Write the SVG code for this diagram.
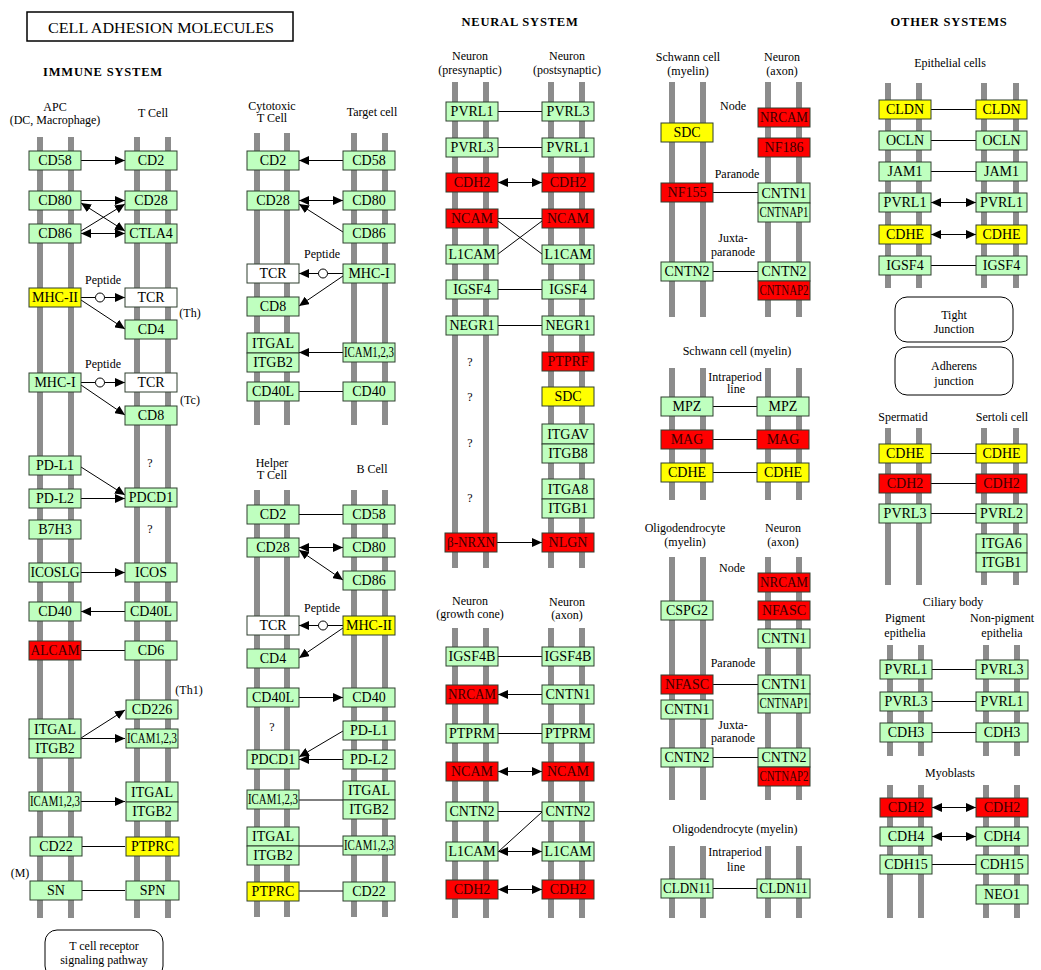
<svg xmlns="http://www.w3.org/2000/svg" width="1041" height="970" viewBox="0 0 1041 970">
<style>
.bar{stroke:#8c8c8c;stroke-width:6}
.n rect{stroke:#2f3f2f;stroke-width:1}
.g{fill:#bfffbf}.r{fill:#ff0000}.y{fill:#ffff00}.w{fill:#ffffff}
text{font-family:"Liberation Serif","Times New Roman",serif;fill:#000}
.nt{font-size:14px;text-anchor:middle;dominant-baseline:central}
text.rt{fill:#3a0000}
.lb{font-size:12px;text-anchor:middle}
.hd{font-size:12.5px;font-weight:bold;text-anchor:middle;letter-spacing:0.8px}
.c{stroke:#000;stroke-width:1;fill:none}
.a{marker-end:url(#ah)}
.b{marker-start:url(#ah);marker-end:url(#ah)}
.pc{fill:#fff;stroke:#000;stroke-width:1}
.box{fill:#fff;stroke:#000;stroke-width:1}
</style>
<defs>
<marker id="ah" markerWidth="11" markerHeight="9" refX="10" refY="4.5" orient="auto-start-reverse" markerUnits="userSpaceOnUse"><path d="M0,0 L10,4.5 L0,9 z" fill="#000"/></marker>
</defs>
<rect width="1041" height="970" fill="#fff"/>

<g id="titles">
<rect x="27" y="12" width="266" height="29" fill="#fff" stroke="#000" stroke-width="1.5"/>
<text x="161" y="32.5" font-size="15" text-anchor="middle" textLength="226" lengthAdjust="spacingAndGlyphs">CELL ADHESION MOLECULES</text>
<text class="hd" x="103" y="76">IMMUNE SYSTEM</text>
<text class="hd" x="520" y="26">NEURAL SYSTEM</text>
<text class="hd" x="949" y="26">OTHER SYSTEMS</text>
</g>

<g id="membranes">
<line class="bar" x1="40" y1="137" x2="40" y2="918"/><line class="bar" x1="71" y1="137" x2="71" y2="918"/>
<line class="bar" x1="137" y1="137" x2="137" y2="918"/><line class="bar" x1="168" y1="137" x2="168" y2="918"/>
<line class="bar" x1="257" y1="133" x2="257" y2="425"/><line class="bar" x1="287" y1="133" x2="287" y2="425"/>
<line class="bar" x1="354" y1="133" x2="354" y2="425"/><line class="bar" x1="385" y1="133" x2="385" y2="425"/>
<line class="bar" x1="257" y1="490" x2="257" y2="917"/><line class="bar" x1="287" y1="490" x2="287" y2="917"/>
<line class="bar" x1="354" y1="490" x2="354" y2="917"/><line class="bar" x1="385" y1="490" x2="385" y2="917"/>
<line class="bar" x1="455" y1="82" x2="455" y2="568"/><line class="bar" x1="486" y1="82" x2="486" y2="568"/>
<line class="bar" x1="551" y1="82" x2="551" y2="568"/><line class="bar" x1="582" y1="82" x2="582" y2="568"/>
<line class="bar" x1="455" y1="628" x2="455" y2="918"/><line class="bar" x1="486" y1="628" x2="486" y2="918"/>
<line class="bar" x1="551" y1="628" x2="551" y2="918"/><line class="bar" x1="582" y1="628" x2="582" y2="918"/>
<line class="bar" x1="672" y1="82" x2="672" y2="317"/><line class="bar" x1="703" y1="82" x2="703" y2="317"/>
<line class="bar" x1="768" y1="82" x2="768" y2="317"/><line class="bar" x1="799" y1="82" x2="799" y2="317"/>
<line class="bar" x1="672" y1="368" x2="672" y2="500"/><line class="bar" x1="703" y1="368" x2="703" y2="500"/>
<line class="bar" x1="768" y1="368" x2="768" y2="500"/><line class="bar" x1="799" y1="368" x2="799" y2="500"/>
<line class="bar" x1="672" y1="557" x2="672" y2="800"/><line class="bar" x1="703" y1="557" x2="703" y2="800"/>
<line class="bar" x1="768" y1="557" x2="768" y2="800"/><line class="bar" x1="799" y1="557" x2="799" y2="800"/>
<line class="bar" x1="672" y1="846" x2="672" y2="918"/><line class="bar" x1="703" y1="846" x2="703" y2="918"/>
<line class="bar" x1="768" y1="846" x2="768" y2="918"/><line class="bar" x1="799" y1="846" x2="799" y2="918"/>
<line class="bar" x1="888" y1="83" x2="888" y2="288"/><line class="bar" x1="919" y1="83" x2="919" y2="288"/>
<line class="bar" x1="984" y1="83" x2="984" y2="288"/><line class="bar" x1="1016" y1="83" x2="1016" y2="288"/>
<line class="bar" x1="888" y1="428" x2="888" y2="585"/><line class="bar" x1="919" y1="428" x2="919" y2="585"/>
<line class="bar" x1="984" y1="428" x2="984" y2="585"/><line class="bar" x1="1016" y1="428" x2="1016" y2="585"/>
<line class="bar" x1="890" y1="645" x2="890" y2="756"/><line class="bar" x1="921" y1="645" x2="921" y2="756"/>
<line class="bar" x1="986" y1="645" x2="986" y2="756"/><line class="bar" x1="1017" y1="645" x2="1017" y2="756"/>
<line class="bar" x1="890" y1="785" x2="890" y2="918"/><line class="bar" x1="921" y1="785" x2="921" y2="918"/>
<line class="bar" x1="986" y1="785" x2="986" y2="918"/><line class="bar" x1="1017" y1="785" x2="1017" y2="918"/>
</g>

<g id="labels">
<text class="lb" x="55" y="111">APC</text>
<text class="lb" x="55" y="124">(DC, Macrophage)</text>
<text class="lb" x="153" y="117">T Cell</text>
<text class="lb" x="103" y="284">Peptide</text>
<text class="lb" x="103" y="368">Peptide</text>
<text class="lb" x="190" y="317">(Th)</text>
<text class="lb" x="190" y="404">(Tc)</text>
<text class="lb" x="150" y="467">?</text>
<text class="lb" x="150" y="533">?</text>
<text class="lb" x="189" y="694">(Th1)</text>
<text class="lb" x="20" y="877">(M)</text>
<text class="lb" x="272" y="110">Cytotoxic</text>
<text class="lb" x="272" y="122">T Cell</text>
<text class="lb" x="372" y="116">Target cell</text>
<text class="lb" x="322" y="258">Peptide</text>
<text class="lb" x="272" y="467">Helper</text>
<text class="lb" x="272" y="479">T Cell</text>
<text class="lb" x="372" y="473">B Cell</text>
<text class="lb" x="322" y="612">Peptide</text>
<text class="lb" x="272" y="731">?</text>
<text class="lb" x="470" y="60">Neuron</text>
<text class="lb" x="470" y="74">(presynaptic)</text>
<text class="lb" x="567" y="60">Neuron</text>
<text class="lb" x="567" y="74">(postsynaptic)</text>
<text class="lb" x="470" y="366">?</text>
<text class="lb" x="470" y="401">?</text>
<text class="lb" x="470" y="447">?</text>
<text class="lb" x="470" y="502">?</text>
<text class="lb" x="470" y="605">Neuron</text>
<text class="lb" x="470" y="618">(growth cone)</text>
<text class="lb" x="567" y="606">Neuron</text>
<text class="lb" x="567" y="619">(axon)</text>
<text class="lb" x="688" y="61">Schwann cell</text>
<text class="lb" x="688" y="75">(myelin)</text>
<text class="lb" x="782" y="61">Neuron</text>
<text class="lb" x="782" y="75">(axon)</text>
<text class="lb" x="733" y="110">Node</text>
<text class="lb" x="737" y="178">Paranode</text>
<text class="lb" x="733" y="242">Juxta-</text>
<text class="lb" x="733" y="256">paranode</text>
<text class="lb" x="737" y="355">Schwann cell (myelin)</text>
<text class="lb" x="735" y="381">Intraperiod</text>
<text class="lb" x="736" y="393">line</text>
<text class="lb" x="685" y="532">Oligodendrocyte</text>
<text class="lb" x="685" y="546">(myelin)</text>
<text class="lb" x="783" y="532">Neuron</text>
<text class="lb" x="783" y="546">(axon)</text>
<text class="lb" x="732" y="572">Node</text>
<text class="lb" x="733" y="667">Paranode</text>
<text class="lb" x="733" y="729">Juxta-</text>
<text class="lb" x="733" y="742">paranode</text>
<text class="lb" x="735" y="833">Oligodendrocyte (myelin)</text>
<text class="lb" x="735" y="856">Intraperiod</text>
<text class="lb" x="736" y="871">line</text>
<text class="lb" x="950" y="67">Epithelial cells</text>
<text class="lb" x="903" y="421">Spermatid</text>
<text class="lb" x="1002" y="421">Sertoli cell</text>
<text class="lb" x="953" y="606">Ciliary body</text>
<text class="lb" x="905" y="622">Pigment</text>
<text class="lb" x="905" y="637">epithelia</text>
<text class="lb" x="1002" y="622">Non-pigment</text>
<text class="lb" x="1002" y="637">epithelia</text>
<text class="lb" x="950" y="777">Myoblasts</text>
</g>

<g id="pathway-boxes">
<g id="p-tcr"><rect class="box" x="45" y="930" width="118" height="48" rx="12"/><text class="lb" x="104" y="950">T cell receptor</text><text class="lb" x="104" y="964">signaling pathway</text></g>
<g id="p-tight"><rect class="box" x="895" y="297" width="118" height="45" rx="12"/><text class="lb" x="954" y="319">Tight</text><text class="lb" x="954" y="333">Junction</text></g>
<g id="p-adherens"><rect class="box" x="895" y="347" width="118" height="48" rx="12"/><text class="lb" x="954" y="370">Adherens</text><text class="lb" x="954" y="385">junction</text></g>
</g>

<g id="connectors">
<line class="c a" x1="81" y1="160.5" x2="125" y2="160.5"/>
<line class="c a" x1="81" y1="200.5" x2="125" y2="200.5"/>
<line class="c b" x1="81" y1="203" x2="125" y2="231"/>
<line class="c a" x1="81" y1="231" x2="125" y2="204"/>
<line class="c b" x1="81" y1="233.5" x2="125" y2="233.5"/>
<line class="c" x1="81" y1="297.5" x2="95.5" y2="297.5"/>
<circle class="pc" cx="100" cy="297.5" r="4.5"/>
<line class="c a" x1="104.5" y1="297.5" x2="125" y2="297.5"/>
<line class="c a" x1="81" y1="300" x2="125" y2="329"/>
<line class="c" x1="81" y1="382.5" x2="95.5" y2="382.5"/>
<circle class="pc" cx="100" cy="382.5" r="4.5"/>
<line class="c a" x1="104.5" y1="382.5" x2="125" y2="382.5"/>
<line class="c a" x1="81" y1="385" x2="125" y2="415"/>
<line class="c a" x1="81" y1="467" x2="125" y2="495"/>
<line class="c a" x1="81" y1="498.5" x2="125" y2="498.5"/>
<line class="c a" x1="81" y1="572.5" x2="125" y2="572.5"/>
<line class="c a" x1="125" y1="611.5" x2="81" y2="611.5"/>
<line class="c" x1="81" y1="650.5" x2="125" y2="650.5"/>
<line class="c a" x1="81" y1="738" x2="125" y2="710"/>
<line class="c a" x1="81" y1="738.5" x2="125" y2="738.5"/>
<line class="c a" x1="81" y1="801.5" x2="125" y2="801.5"/>
<line class="c" x1="81" y1="846.5" x2="125" y2="846.5"/>
<line class="c" x1="81" y1="890.5" x2="125" y2="890.5"/>
<line class="c a" x1="343" y1="160.5" x2="299" y2="160.5"/>
<line class="c b" x1="299" y1="200.5" x2="343" y2="200.5"/>
<line class="c a" x1="343" y1="232" x2="299" y2="204"/>
<line class="c" x1="343" y1="273.5" x2="327.5" y2="273.5"/>
<circle class="pc" cx="323" cy="273.5" r="4.5"/>
<line class="c a" x1="318.5" y1="273.5" x2="299" y2="273.5"/>
<line class="c a" x1="343" y1="276" x2="299" y2="306"/>
<line class="c a" x1="343" y1="352.5" x2="299" y2="352.5"/>
<line class="c" x1="299" y1="391.5" x2="343" y2="391.5"/>
<line class="c" x1="299" y1="514.5" x2="343" y2="514.5"/>
<line class="c b" x1="299" y1="547.5" x2="343" y2="547.5"/>
<line class="c b" x1="299" y1="550" x2="343" y2="580"/>
<line class="c" x1="343" y1="625.5" x2="327.5" y2="625.5"/>
<circle class="pc" cx="323" cy="625.5" r="4.5"/>
<line class="c a" x1="318.5" y1="625.5" x2="299" y2="625.5"/>
<line class="c a" x1="343" y1="628" x2="299" y2="658"/>
<line class="c a" x1="299" y1="697.5" x2="343" y2="697.5"/>
<line class="c a" x1="343" y1="731" x2="299" y2="757"/>
<line class="c a" x1="343" y1="759.5" x2="299" y2="759.5"/>
<line class="c" x1="299" y1="800" x2="343" y2="800"/>
<line class="c" x1="299" y1="846" x2="343" y2="846"/>
<line class="c" x1="299" y1="891" x2="343" y2="891"/>
<line class="c" x1="498" y1="111.5" x2="542" y2="111.5"/>
<line class="c" x1="498" y1="147.5" x2="542" y2="147.5"/>
<line class="c b" x1="498" y1="182.5" x2="542" y2="182.5"/>
<line class="c" x1="498" y1="218.5" x2="542" y2="218.5"/>
<line class="c" x1="498" y1="221" x2="542" y2="254"/>
<line class="c" x1="498" y1="254" x2="542" y2="221"/>
<line class="c" x1="498" y1="289.5" x2="542" y2="289.5"/>
<line class="c" x1="498" y1="325.5" x2="542" y2="325.5"/>
<line class="c a" x1="497" y1="542.5" x2="542" y2="542.5"/>
<line class="c" x1="498" y1="656.5" x2="542" y2="656.5"/>
<line class="c a" x1="542" y1="694.5" x2="498" y2="694.5"/>
<line class="c" x1="498" y1="733.5" x2="542" y2="733.5"/>
<line class="c b" x1="498" y1="771.5" x2="542" y2="771.5"/>
<line class="c" x1="498" y1="811.5" x2="542" y2="811.5"/>
<line class="c" x1="498" y1="852" x2="542" y2="812"/>
<line class="c b" x1="498" y1="851.5" x2="542" y2="851.5"/>
<line class="c b" x1="498" y1="889.5" x2="542" y2="889.5"/>
<line class="c" x1="713" y1="192.5" x2="758" y2="192.5"/>
<line class="c" x1="713" y1="271.5" x2="758" y2="271.5"/>
<line class="c" x1="713" y1="406.5" x2="757" y2="406.5"/>
<line class="c" x1="713" y1="439.5" x2="757" y2="439.5"/>
<line class="c" x1="713" y1="472.5" x2="757" y2="472.5"/>
<line class="c" x1="713" y1="684.5" x2="758" y2="684.5"/>
<line class="c" x1="713" y1="757.5" x2="758" y2="757.5"/>
<line class="c" x1="713" y1="888.5" x2="757" y2="888.5"/>
<line class="c" x1="931" y1="109.5" x2="976" y2="109.5"/>
<line class="c" x1="931" y1="140.5" x2="976" y2="140.5"/>
<line class="c" x1="931" y1="171.5" x2="976" y2="171.5"/>
<line class="c b" x1="931" y1="202.5" x2="976" y2="202.5"/>
<line class="c b" x1="931" y1="234.5" x2="976" y2="234.5"/>
<line class="c" x1="931" y1="265.5" x2="976" y2="265.5"/>
<line class="c" x1="931" y1="453.5" x2="976" y2="453.5"/>
<line class="c" x1="931" y1="483.5" x2="976" y2="483.5"/>
<line class="c" x1="931" y1="513.5" x2="976" y2="513.5"/>
<line class="c" x1="932" y1="669.5" x2="976" y2="669.5"/>
<line class="c" x1="932" y1="701.5" x2="976" y2="701.5"/>
<line class="c" x1="932" y1="732.5" x2="976" y2="732.5"/>
<line class="c b" x1="932" y1="807.5" x2="976" y2="807.5"/>
<line class="c b" x1="932" y1="836.5" x2="976" y2="836.5"/>
<line class="c" x1="932" y1="864.5" x2="976" y2="864.5"/>
</g>

<g id="nodes">
<g id="imm-apc-cd58" class="n"><rect class="g" x="29" y="151" width="52" height="19"/><text class="nt" x="55" y="160.5">CD58</text></g>
<g id="imm-apc-cd80" class="n"><rect class="g" x="29" y="191" width="52" height="19"/><text class="nt" x="55" y="200.5">CD80</text></g>
<g id="imm-apc-cd86" class="n"><rect class="g" x="29" y="224" width="52" height="19"/><text class="nt" x="55" y="233.5">CD86</text></g>
<g id="imm-apc-mhc2" class="n"><rect class="y" x="29" y="288" width="52" height="19"/><text class="nt" x="55" y="297.5" textLength="46" lengthAdjust="spacingAndGlyphs">MHC-II</text></g>
<g id="imm-apc-mhc1" class="n"><rect class="g" x="29" y="373" width="52" height="19"/><text class="nt" x="55" y="382.5">MHC-I</text></g>
<g id="imm-apc-pdl1" class="n"><rect class="g" x="29" y="456" width="52" height="19"/><text class="nt" x="55" y="465.5">PD-L1</text></g>
<g id="imm-apc-pdl2" class="n"><rect class="g" x="29" y="489" width="52" height="19"/><text class="nt" x="55" y="498.5">PD-L2</text></g>
<g id="imm-apc-b7h3" class="n"><rect class="g" x="29" y="520" width="52" height="19"/><text class="nt" x="55" y="529.5">B7H3</text></g>
<g id="imm-apc-icoslg" class="n"><rect class="g" x="29" y="563" width="52" height="19"/><text class="nt" x="55" y="572.5" textLength="49" lengthAdjust="spacingAndGlyphs">ICOSLG</text></g>
<g id="imm-apc-cd40" class="n"><rect class="g" x="29" y="602" width="52" height="19"/><text class="nt" x="55" y="611.5">CD40</text></g>
<g id="imm-apc-alcam" class="n"><rect class="r" x="29" y="641" width="52" height="19"/><text class="nt rt" x="55" y="650.5" textLength="49" lengthAdjust="spacingAndGlyphs">ALCAM</text></g>
<g id="imm-apc-itgal" class="n"><rect class="g" x="29" y="719" width="52" height="20"/><rect class="g" x="29" y="739" width="52" height="19"/><text class="nt" x="55" y="729">ITGAL</text><text class="nt" x="55" y="748.5">ITGB2</text></g>
<g id="imm-apc-icam" class="n"><rect class="g" x="29" y="792" width="52" height="19"/><text class="nt" x="55" y="801.5" textLength="50" lengthAdjust="spacingAndGlyphs">ICAM1,2,3</text></g>
<g id="imm-apc-cd22" class="n"><rect class="g" x="30" y="837" width="52" height="19"/><text class="nt" x="56" y="846.5">CD22</text></g>
<g id="imm-apc-sn" class="n"><rect class="g" x="30" y="881" width="52" height="19"/><text class="nt" x="56" y="890.5">SN</text></g>
<g id="imm-t-cd2" class="n"><rect class="g" x="125" y="151" width="52" height="19"/><text class="nt" x="151" y="160.5">CD2</text></g>
<g id="imm-t-cd28" class="n"><rect class="g" x="125" y="191" width="52" height="19"/><text class="nt" x="151" y="200.5">CD28</text></g>
<g id="imm-t-ctla4" class="n"><rect class="g" x="125" y="224" width="52" height="19"/><text class="nt" x="151" y="233.5">CTLA4</text></g>
<g id="imm-t-tcr1" class="n"><rect class="w" x="125" y="288" width="52" height="19"/><text class="nt" x="151" y="297.5">TCR</text></g>
<g id="imm-t-cd4" class="n"><rect class="g" x="125" y="320" width="52" height="19"/><text class="nt" x="151" y="329.5">CD4</text></g>
<g id="imm-t-tcr2" class="n"><rect class="w" x="125" y="373" width="52" height="19"/><text class="nt" x="151" y="382.5">TCR</text></g>
<g id="imm-t-cd8" class="n"><rect class="g" x="125" y="406" width="52" height="19"/><text class="nt" x="151" y="415.5">CD8</text></g>
<g id="imm-t-pdcd1" class="n"><rect class="g" x="125" y="488" width="52" height="19"/><text class="nt" x="151" y="497.5">PDCD1</text></g>
<g id="imm-t-icos" class="n"><rect class="g" x="125" y="563" width="52" height="19"/><text class="nt" x="151" y="572.5">ICOS</text></g>
<g id="imm-t-cd40l" class="n"><rect class="g" x="125" y="602" width="52" height="19"/><text class="nt" x="151" y="611.5">CD40L</text></g>
<g id="imm-t-cd6" class="n"><rect class="g" x="125" y="641" width="52" height="19"/><text class="nt" x="151" y="650.5">CD6</text></g>
<g id="imm-t-cd226" class="n"><rect class="g" x="126" y="700" width="52" height="19"/><text class="nt" x="152" y="709.5">CD226</text></g>
<g id="imm-t-icam" class="n"><rect class="g" x="126" y="729" width="52" height="19"/><text class="nt" x="152" y="738.5" textLength="50" lengthAdjust="spacingAndGlyphs">ICAM1,2,3</text></g>
<g id="imm-t-itgal" class="n"><rect class="g" x="126" y="782" width="52" height="20"/><rect class="g" x="126" y="802" width="52" height="19"/><text class="nt" x="152" y="792">ITGAL</text><text class="nt" x="152" y="811.5">ITGB2</text></g>
<g id="imm-t-ptprc" class="n"><rect class="y" x="126" y="837" width="53" height="19"/><text class="nt" x="152.5" y="846.5">PTPRC</text></g>
<g id="imm-t-spn" class="n"><rect class="g" x="126" y="881" width="53" height="19"/><text class="nt" x="152.5" y="890.5">SPN</text></g>
<g id="cyt-cd2" class="n"><rect class="g" x="247" y="151" width="52" height="19"/><text class="nt" x="273" y="160.5">CD2</text></g>
<g id="cyt-cd28" class="n"><rect class="g" x="247" y="191" width="52" height="19"/><text class="nt" x="273" y="200.5">CD28</text></g>
<g id="cyt-tcr" class="n"><rect class="w" x="247" y="264" width="52" height="19"/><text class="nt" x="273" y="273.5">TCR</text></g>
<g id="cyt-cd8" class="n"><rect class="g" x="247" y="297" width="52" height="19"/><text class="nt" x="273" y="306.5">CD8</text></g>
<g id="cyt-itgal" class="n"><rect class="g" x="247" y="333" width="52" height="20"/><rect class="g" x="247" y="353" width="52" height="19"/><text class="nt" x="273" y="343">ITGAL</text><text class="nt" x="273" y="362.5">ITGB2</text></g>
<g id="cyt-cd40l" class="n"><rect class="g" x="247" y="382" width="52" height="19"/><text class="nt" x="273" y="391.5">CD40L</text></g>
<g id="tgt-cd58" class="n"><rect class="g" x="343" y="151" width="52" height="19"/><text class="nt" x="369" y="160.5">CD58</text></g>
<g id="tgt-cd80" class="n"><rect class="g" x="343" y="191" width="52" height="19"/><text class="nt" x="369" y="200.5">CD80</text></g>
<g id="tgt-cd86" class="n"><rect class="g" x="343" y="224" width="52" height="19"/><text class="nt" x="369" y="233.5">CD86</text></g>
<g id="tgt-mhc1" class="n"><rect class="g" x="343" y="264" width="52" height="19"/><text class="nt" x="369" y="273.5">MHC-I</text></g>
<g id="tgt-icam" class="n"><rect class="g" x="343" y="343" width="52" height="19"/><text class="nt" x="369" y="352.5" textLength="50" lengthAdjust="spacingAndGlyphs">ICAM1,2,3</text></g>
<g id="tgt-cd40" class="n"><rect class="g" x="343" y="382" width="52" height="19"/><text class="nt" x="369" y="391.5">CD40</text></g>
<g id="hlp-cd2" class="n"><rect class="g" x="247" y="505" width="52" height="19"/><text class="nt" x="273" y="514.5">CD2</text></g>
<g id="hlp-cd28" class="n"><rect class="g" x="247" y="538" width="52" height="19"/><text class="nt" x="273" y="547.5">CD28</text></g>
<g id="hlp-tcr" class="n"><rect class="w" x="247" y="616" width="52" height="19"/><text class="nt" x="273" y="625.5">TCR</text></g>
<g id="hlp-cd4" class="n"><rect class="g" x="247" y="649" width="52" height="19"/><text class="nt" x="273" y="658.5">CD4</text></g>
<g id="hlp-cd40l" class="n"><rect class="g" x="247" y="688" width="52" height="19"/><text class="nt" x="273" y="697.5">CD40L</text></g>
<g id="hlp-pdcd1" class="n"><rect class="g" x="247" y="750" width="52" height="19"/><text class="nt" x="273" y="759.5">PDCD1</text></g>
<g id="hlp-icam" class="n"><rect class="g" x="247" y="790" width="52" height="19"/><text class="nt" x="273" y="799.5" textLength="50" lengthAdjust="spacingAndGlyphs">ICAM1,2,3</text></g>
<g id="hlp-itgal" class="n"><rect class="g" x="247" y="827" width="52" height="19"/><rect class="g" x="247" y="846" width="52" height="19"/><text class="nt" x="273" y="836.5">ITGAL</text><text class="nt" x="273" y="855.5">ITGB2</text></g>
<g id="hlp-ptprc" class="n"><rect class="y" x="247" y="882" width="52" height="19"/><text class="nt" x="273" y="891.5">PTPRC</text></g>
<g id="bc-cd58" class="n"><rect class="g" x="343" y="505" width="52" height="19"/><text class="nt" x="369" y="514.5">CD58</text></g>
<g id="bc-cd80" class="n"><rect class="g" x="343" y="538" width="52" height="19"/><text class="nt" x="369" y="547.5">CD80</text></g>
<g id="bc-cd86" class="n"><rect class="g" x="343" y="571" width="52" height="19"/><text class="nt" x="369" y="580.5">CD86</text></g>
<g id="bc-mhc2" class="n"><rect class="y" x="343" y="616" width="52" height="19"/><text class="nt" x="369" y="625.5" textLength="46" lengthAdjust="spacingAndGlyphs">MHC-II</text></g>
<g id="bc-cd40" class="n"><rect class="g" x="343" y="688" width="52" height="19"/><text class="nt" x="369" y="697.5">CD40</text></g>
<g id="bc-pdl1" class="n"><rect class="g" x="343" y="721" width="52" height="19"/><text class="nt" x="369" y="730.5">PD-L1</text></g>
<g id="bc-pdl2" class="n"><rect class="g" x="343" y="750" width="52" height="19"/><text class="nt" x="369" y="759.5">PD-L2</text></g>
<g id="bc-itgal" class="n"><rect class="g" x="343" y="781" width="52" height="19"/><rect class="g" x="343" y="800" width="52" height="19"/><text class="nt" x="369" y="790.5">ITGAL</text><text class="nt" x="369" y="809.5">ITGB2</text></g>
<g id="bc-icam" class="n"><rect class="g" x="343" y="836" width="52" height="19"/><text class="nt" x="369" y="845.5" textLength="50" lengthAdjust="spacingAndGlyphs">ICAM1,2,3</text></g>
<g id="bc-cd22" class="n"><rect class="g" x="343" y="882" width="52" height="19"/><text class="nt" x="369" y="891.5">CD22</text></g>
<g id="pre-pvrl1" class="n"><rect class="g" x="446" y="102" width="52" height="19"/><text class="nt" x="472" y="111.5">PVRL1</text></g>
<g id="pre-pvrl3" class="n"><rect class="g" x="446" y="138" width="52" height="19"/><text class="nt" x="472" y="147.5">PVRL3</text></g>
<g id="pre-cdh2" class="n"><rect class="r" x="446" y="173" width="52" height="19"/><text class="nt rt" x="472" y="182.5">CDH2</text></g>
<g id="pre-ncam" class="n"><rect class="r" x="446" y="209" width="52" height="19"/><text class="nt rt" x="472" y="218.5">NCAM</text></g>
<g id="pre-l1cam" class="n"><rect class="g" x="446" y="245" width="52" height="19"/><text class="nt" x="472" y="254.5" textLength="47" lengthAdjust="spacingAndGlyphs">L1CAM</text></g>
<g id="pre-igsf4" class="n"><rect class="g" x="446" y="280" width="52" height="19"/><text class="nt" x="472" y="289.5">IGSF4</text></g>
<g id="pre-negr1" class="n"><rect class="g" x="446" y="316" width="52" height="19"/><text class="nt" x="472" y="325.5">NEGR1</text></g>
<g id="pre-bnrxn" class="n"><rect class="r" x="445" y="533" width="52" height="19"/><text class="nt rt" x="471" y="542.5" textLength="48" lengthAdjust="spacingAndGlyphs">β-NRXN</text></g>
<g id="post-pvrl3" class="n"><rect class="g" x="542" y="102" width="52" height="19"/><text class="nt" x="568" y="111.5">PVRL3</text></g>
<g id="post-pvrl1" class="n"><rect class="g" x="542" y="138" width="52" height="19"/><text class="nt" x="568" y="147.5">PVRL1</text></g>
<g id="post-cdh2" class="n"><rect class="r" x="542" y="173" width="52" height="19"/><text class="nt rt" x="568" y="182.5">CDH2</text></g>
<g id="post-ncam" class="n"><rect class="r" x="542" y="209" width="52" height="19"/><text class="nt rt" x="568" y="218.5">NCAM</text></g>
<g id="post-l1cam" class="n"><rect class="g" x="542" y="245" width="52" height="19"/><text class="nt" x="568" y="254.5" textLength="47" lengthAdjust="spacingAndGlyphs">L1CAM</text></g>
<g id="post-igsf4" class="n"><rect class="g" x="542" y="280" width="52" height="19"/><text class="nt" x="568" y="289.5">IGSF4</text></g>
<g id="post-negr1" class="n"><rect class="g" x="542" y="316" width="52" height="19"/><text class="nt" x="568" y="325.5">NEGR1</text></g>
<g id="post-ptprf" class="n"><rect class="r" x="542" y="352" width="52" height="19"/><text class="nt rt" x="568" y="361.5">PTPRF</text></g>
<g id="post-sdc" class="n"><rect class="y" x="542" y="387" width="52" height="19"/><text class="nt" x="568" y="396.5">SDC</text></g>
<g id="post-itgav" class="n"><rect class="g" x="542" y="424" width="52" height="20"/><rect class="g" x="542" y="444" width="52" height="19"/><text class="nt" x="568" y="434">ITGAV</text><text class="nt" x="568" y="453.5">ITGB8</text></g>
<g id="post-itga8" class="n"><rect class="g" x="542" y="479" width="52" height="20"/><rect class="g" x="542" y="499" width="52" height="19"/><text class="nt" x="568" y="489">ITGA8</text><text class="nt" x="568" y="508.5">ITGB1</text></g>
<g id="post-nlgn" class="n"><rect class="r" x="542" y="533" width="52" height="19"/><text class="nt rt" x="568" y="542.5">NLGN</text></g>
<g id="gc-igsf4b" class="n"><rect class="g" x="446" y="647" width="52" height="19"/><text class="nt" x="472" y="656.5" textLength="47" lengthAdjust="spacingAndGlyphs">IGSF4B</text></g>
<g id="gc-nrcam" class="n"><rect class="r" x="446" y="685" width="52" height="19"/><text class="nt rt" x="472" y="694.5" textLength="48" lengthAdjust="spacingAndGlyphs">NRCAM</text></g>
<g id="gc-ptprm" class="n"><rect class="g" x="446" y="724" width="52" height="19"/><text class="nt" x="472" y="733.5" textLength="46" lengthAdjust="spacingAndGlyphs">PTPRM</text></g>
<g id="gc-ncam" class="n"><rect class="r" x="446" y="762" width="52" height="19"/><text class="nt rt" x="472" y="771.5">NCAM</text></g>
<g id="gc-cntn2" class="n"><rect class="g" x="446" y="802" width="52" height="19"/><text class="nt" x="472" y="811.5">CNTN2</text></g>
<g id="gc-l1cam" class="n"><rect class="g" x="446" y="842" width="52" height="19"/><text class="nt" x="472" y="851.5" textLength="47" lengthAdjust="spacingAndGlyphs">L1CAM</text></g>
<g id="gc-cdh2" class="n"><rect class="r" x="446" y="880" width="52" height="19"/><text class="nt rt" x="472" y="889.5">CDH2</text></g>
<g id="ax-igsf4b" class="n"><rect class="g" x="542" y="647" width="52" height="19"/><text class="nt" x="568" y="656.5" textLength="47" lengthAdjust="spacingAndGlyphs">IGSF4B</text></g>
<g id="ax-cntn1" class="n"><rect class="g" x="542" y="685" width="52" height="19"/><text class="nt" x="568" y="694.5">CNTN1</text></g>
<g id="ax-ptprm" class="n"><rect class="g" x="542" y="724" width="52" height="19"/><text class="nt" x="568" y="733.5" textLength="46" lengthAdjust="spacingAndGlyphs">PTPRM</text></g>
<g id="ax-ncam" class="n"><rect class="r" x="542" y="762" width="52" height="19"/><text class="nt rt" x="568" y="771.5">NCAM</text></g>
<g id="ax-cntn2" class="n"><rect class="g" x="542" y="802" width="52" height="19"/><text class="nt" x="568" y="811.5">CNTN2</text></g>
<g id="ax-l1cam" class="n"><rect class="g" x="542" y="842" width="52" height="19"/><text class="nt" x="568" y="851.5" textLength="47" lengthAdjust="spacingAndGlyphs">L1CAM</text></g>
<g id="ax-cdh2" class="n"><rect class="r" x="542" y="880" width="52" height="19"/><text class="nt rt" x="568" y="889.5">CDH2</text></g>
<g id="sw-sdc" class="n"><rect class="y" x="661" y="123" width="52" height="19"/><text class="nt" x="687" y="132.5">SDC</text></g>
<g id="sw-nf155" class="n"><rect class="r" x="661" y="183" width="52" height="19"/><text class="nt rt" x="687" y="192.5">NF155</text></g>
<g id="sw-cntn2" class="n"><rect class="g" x="661" y="262" width="52" height="19"/><text class="nt" x="687" y="271.5">CNTN2</text></g>
<g id="swax-nrcam" class="n"><rect class="r" x="758" y="108" width="52" height="19"/><text class="nt rt" x="784" y="117.5" textLength="48" lengthAdjust="spacingAndGlyphs">NRCAM</text></g>
<g id="swax-nf186" class="n"><rect class="r" x="758" y="138" width="52" height="19"/><text class="nt rt" x="784" y="147.5">NF186</text></g>
<g id="swax-cntn1" class="n"><rect class="g" x="758" y="183" width="52" height="20"/><rect class="g" x="758" y="203" width="52" height="19"/><text class="nt" x="784" y="193">CNTN1</text><text class="nt" x="784" y="212.5" textLength="49" lengthAdjust="spacingAndGlyphs">CNTNAP1</text></g>
<g id="swax-cntn2" class="n"><rect class="g" x="758" y="262" width="52" height="19"/><rect class="r" x="758" y="281" width="52" height="19"/><text class="nt" x="784" y="271.5">CNTN2</text><text class="nt rt" x="784" y="290.5" textLength="49" lengthAdjust="spacingAndGlyphs">CNTNAP2</text></g>
<g id="sw2-mpz-l" class="n"><rect class="g" x="661" y="397" width="52" height="19"/><text class="nt" x="687" y="406.5">MPZ</text></g>
<g id="sw2-mag-l" class="n"><rect class="r" x="661" y="430" width="52" height="19"/><text class="nt rt" x="687" y="439.5">MAG</text></g>
<g id="sw2-cdhe-l" class="n"><rect class="y" x="661" y="463" width="52" height="19"/><text class="nt" x="687" y="472.5">CDHE</text></g>
<g id="sw2-mpz-r" class="n"><rect class="g" x="757" y="397" width="52" height="19"/><text class="nt" x="783" y="406.5">MPZ</text></g>
<g id="sw2-mag-r" class="n"><rect class="r" x="757" y="430" width="52" height="19"/><text class="nt rt" x="783" y="439.5">MAG</text></g>
<g id="sw2-cdhe-r" class="n"><rect class="y" x="757" y="463" width="52" height="19"/><text class="nt" x="783" y="472.5">CDHE</text></g>
<g id="ol-cspg2" class="n"><rect class="g" x="661" y="601" width="52" height="19"/><text class="nt" x="687" y="610.5">CSPG2</text></g>
<g id="ol-nfasc" class="n"><rect class="r" x="661" y="675" width="52" height="19"/><text class="nt rt" x="687" y="684.5">NFASC</text></g>
<g id="ol-cntn1" class="n"><rect class="g" x="661" y="700" width="52" height="19"/><text class="nt" x="687" y="709.5">CNTN1</text></g>
<g id="ol-cntn2" class="n"><rect class="g" x="661" y="748" width="52" height="19"/><text class="nt" x="687" y="757.5">CNTN2</text></g>
<g id="olax-nrcam" class="n"><rect class="r" x="758" y="573" width="52" height="19"/><text class="nt rt" x="784" y="582.5" textLength="48" lengthAdjust="spacingAndGlyphs">NRCAM</text></g>
<g id="olax-nfasc" class="n"><rect class="r" x="758" y="601" width="52" height="19"/><text class="nt rt" x="784" y="610.5">NFASC</text></g>
<g id="olax-cntn1a" class="n"><rect class="g" x="758" y="629" width="52" height="19"/><text class="nt" x="784" y="638.5">CNTN1</text></g>
<g id="olax-cntn1b" class="n"><rect class="g" x="758" y="675" width="52" height="19"/><rect class="g" x="758" y="694" width="52" height="19"/><text class="nt" x="784" y="684.5">CNTN1</text><text class="nt" x="784" y="703.5" textLength="49" lengthAdjust="spacingAndGlyphs">CNTNAP1</text></g>
<g id="olax-cntn2" class="n"><rect class="g" x="758" y="748" width="52" height="19"/><rect class="r" x="758" y="767" width="52" height="19"/><text class="nt" x="784" y="757.5">CNTN2</text><text class="nt rt" x="784" y="776.5" textLength="49" lengthAdjust="spacingAndGlyphs">CNTNAP2</text></g>
<g id="ol2-cldn11-l" class="n"><rect class="g" x="661" y="879" width="52" height="19"/><text class="nt" x="687" y="888.5" textLength="48" lengthAdjust="spacingAndGlyphs">CLDN11</text></g>
<g id="ol2-cldn11-r" class="n"><rect class="g" x="757" y="879" width="53" height="19"/><text class="nt" x="783.5" y="888.5" textLength="48" lengthAdjust="spacingAndGlyphs">CLDN11</text></g>
<g id="ep-cldn-l" class="n"><rect class="y" x="879" y="100" width="52" height="19"/><text class="nt" x="905" y="109.5">CLDN</text></g>
<g id="ep-ocln-l" class="n"><rect class="g" x="879" y="131" width="52" height="19"/><text class="nt" x="905" y="140.5">OCLN</text></g>
<g id="ep-jam1-l" class="n"><rect class="g" x="879" y="162" width="52" height="19"/><text class="nt" x="905" y="171.5">JAM1</text></g>
<g id="ep-pvrl1-l" class="n"><rect class="g" x="879" y="193" width="52" height="19"/><text class="nt" x="905" y="202.5">PVRL1</text></g>
<g id="ep-cdhe-l" class="n"><rect class="y" x="879" y="225" width="52" height="19"/><text class="nt" x="905" y="234.5">CDHE</text></g>
<g id="ep-igsf4-l" class="n"><rect class="g" x="879" y="256" width="52" height="19"/><text class="nt" x="905" y="265.5">IGSF4</text></g>
<g id="ep-cldn-r" class="n"><rect class="y" x="976" y="100" width="51" height="19"/><text class="nt" x="1001.5" y="109.5">CLDN</text></g>
<g id="ep-ocln-r" class="n"><rect class="g" x="976" y="131" width="51" height="19"/><text class="nt" x="1001.5" y="140.5">OCLN</text></g>
<g id="ep-jam1-r" class="n"><rect class="g" x="976" y="162" width="51" height="19"/><text class="nt" x="1001.5" y="171.5">JAM1</text></g>
<g id="ep-pvrl1-r" class="n"><rect class="g" x="976" y="193" width="51" height="19"/><text class="nt" x="1001.5" y="202.5">PVRL1</text></g>
<g id="ep-cdhe-r" class="n"><rect class="y" x="976" y="225" width="51" height="19"/><text class="nt" x="1001.5" y="234.5">CDHE</text></g>
<g id="ep-igsf4-r" class="n"><rect class="g" x="976" y="256" width="51" height="19"/><text class="nt" x="1001.5" y="265.5">IGSF4</text></g>
<g id="sp-cdhe" class="n"><rect class="y" x="879" y="444" width="52" height="19"/><text class="nt" x="905" y="453.5">CDHE</text></g>
<g id="sp-cdh2" class="n"><rect class="r" x="879" y="474" width="52" height="19"/><text class="nt rt" x="905" y="483.5">CDH2</text></g>
<g id="sp-pvrl3" class="n"><rect class="g" x="879" y="504" width="52" height="19"/><text class="nt" x="905" y="513.5">PVRL3</text></g>
<g id="se-cdhe" class="n"><rect class="y" x="976" y="444" width="51" height="19"/><text class="nt" x="1001.5" y="453.5">CDHE</text></g>
<g id="se-cdh2" class="n"><rect class="r" x="976" y="474" width="51" height="19"/><text class="nt rt" x="1001.5" y="483.5">CDH2</text></g>
<g id="se-pvrl2" class="n"><rect class="g" x="976" y="504" width="51" height="19"/><text class="nt" x="1001.5" y="513.5">PVRL2</text></g>
<g id="se-itga6" class="n"><rect class="g" x="976" y="534" width="51" height="19"/><rect class="g" x="976" y="553" width="51" height="19"/><text class="nt" x="1001.5" y="543.5">ITGA6</text><text class="nt" x="1001.5" y="562.5">ITGB1</text></g>
<g id="cb-pvrl1-l" class="n"><rect class="g" x="880" y="660" width="52" height="19"/><text class="nt" x="906" y="669.5">PVRL1</text></g>
<g id="cb-pvrl3-l" class="n"><rect class="g" x="880" y="692" width="52" height="19"/><text class="nt" x="906" y="701.5">PVRL3</text></g>
<g id="cb-cdh3-l" class="n"><rect class="g" x="880" y="723" width="52" height="19"/><text class="nt" x="906" y="732.5">CDH3</text></g>
<g id="cb-pvrl3-r" class="n"><rect class="g" x="976" y="660" width="52" height="19"/><text class="nt" x="1002" y="669.5">PVRL3</text></g>
<g id="cb-pvrl1-r" class="n"><rect class="g" x="976" y="692" width="52" height="19"/><text class="nt" x="1002" y="701.5">PVRL1</text></g>
<g id="cb-cdh3-r" class="n"><rect class="g" x="976" y="723" width="52" height="19"/><text class="nt" x="1002" y="732.5">CDH3</text></g>
<g id="my-cdh2-l" class="n"><rect class="r" x="880" y="798" width="52" height="19"/><text class="nt rt" x="906" y="807.5">CDH2</text></g>
<g id="my-cdh4-l" class="n"><rect class="g" x="880" y="827" width="52" height="19"/><text class="nt" x="906" y="836.5">CDH4</text></g>
<g id="my-cdh15-l" class="n"><rect class="g" x="880" y="855" width="52" height="19"/><text class="nt" x="906" y="864.5">CDH15</text></g>
<g id="my-cdh2-r" class="n"><rect class="r" x="976" y="798" width="52" height="19"/><text class="nt rt" x="1002" y="807.5">CDH2</text></g>
<g id="my-cdh4-r" class="n"><rect class="g" x="976" y="827" width="52" height="19"/><text class="nt" x="1002" y="836.5">CDH4</text></g>
<g id="my-cdh15-r" class="n"><rect class="g" x="976" y="855" width="52" height="19"/><text class="nt" x="1002" y="864.5">CDH15</text></g>
<g id="my-neo1-r" class="n"><rect class="g" x="976" y="885" width="52" height="19"/><text class="nt" x="1002" y="894.5">NEO1</text></g>
</g>
</svg>
